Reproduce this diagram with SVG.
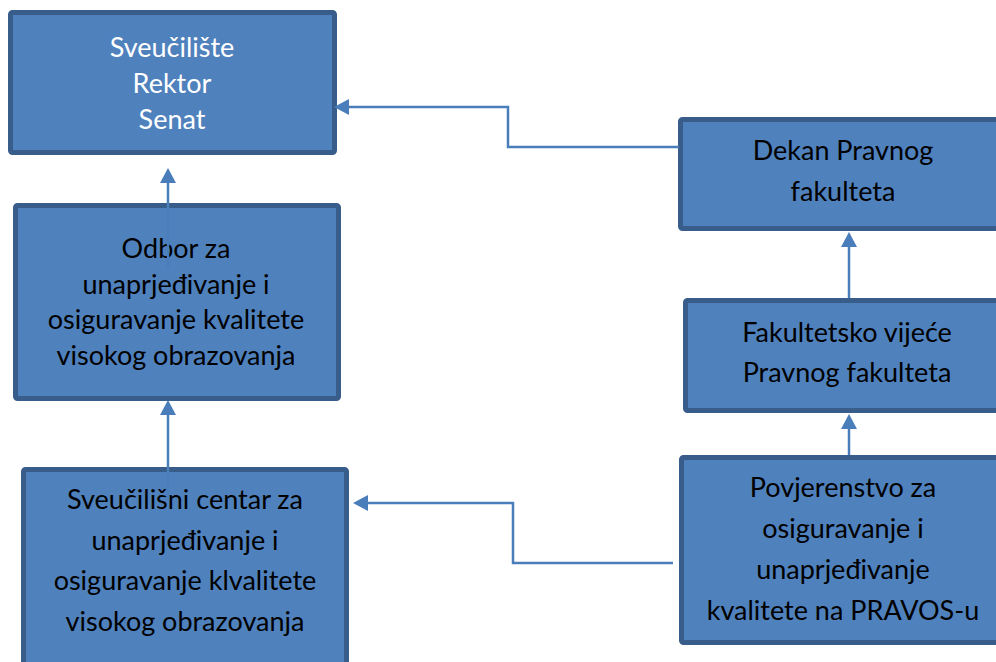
<svg xmlns="http://www.w3.org/2000/svg" width="996" height="662" viewBox="0 0 996 662">
<style>
.box{fill:#4F81BD;stroke:#385D8A;stroke-width:5}
.t{font-family:Lato,"Open Sans","Liberation Sans",sans-serif;font-size:27px;text-anchor:middle;fill:#000}
.w{fill:#fff}
.c{fill:none;stroke:#4A7EBB;stroke-width:2.5;marker-end:url(#ah)}
</style>
<defs>
<marker id="ah" viewBox="0 0 15 16" refX="0" refY="8" markerWidth="15" markerHeight="16" markerUnits="userSpaceOnUse" orient="auto">
<path d="M0,0 L15,8 L0,16 Z" fill="#4A7EBB"/>
</marker>
</defs>
<rect width="996" height="662" fill="#fff"/>
<g id="sveuciliste">
<rect class="box" x="10.5" y="12.5" width="324" height="140" rx="2"/>
<text class="t w" x="172" y="57">Sveučilište</text>
<text class="t w" x="172" y="93">Rektor</text>
<text class="t w" x="172" y="129">Senat</text>
</g>
<g id="odbor">
<rect class="box" x="15.5" y="205.5" width="323" height="193" rx="2"/>
<text class="t" x="176" y="258">Odbor za</text>
<text class="t" x="176" y="293.5">unaprjeđivanje i</text>
<text class="t" x="176" y="329">osiguravanje kvalitete</text>
<text class="t" x="176" y="364.5">visokog obrazovanja</text>
</g>
<g id="centar">
<rect class="box" x="23.5" y="469.5" width="323" height="220" rx="2"/>
<text class="t" x="185" y="509">Sveučilišni centar za</text>
<text class="t" x="185" y="549.5">unaprjeđivanje i</text>
<text class="t" x="185" y="590">osiguravanje klvalitete</text>
<text class="t" x="185" y="631">visokog obrazovanja</text>
</g>
<g id="dekan">
<rect class="box" x="680.5" y="119.5" width="324" height="109" rx="2"/>
<text class="t" x="843" y="160">Dekan Pravnog</text>
<text class="t" x="843" y="201">fakulteta</text>
</g>
<g id="vijece">
<rect class="box" x="685.5" y="300.5" width="324" height="110" rx="2"/>
<text class="t" x="847" y="342">Fakultetsko vijeće</text>
<text class="t" x="847" y="382">Pravnog fakulteta</text>
</g>
<g id="povjerenstvo">
<rect class="box" x="681.5" y="457.5" width="324" height="185" rx="2"/>
<text class="t" x="843" y="497">Povjerenstvo za</text>
<text class="t" x="843" y="538">osiguravanje i</text>
<text class="t" x="843" y="579">unaprjeđivanje</text>
<text class="t" x="843" y="620">kvalitete na PRAVOS-u</text>
</g>
<g id="connectors">
<path class="c" d="M168,267 V183"/>
<path class="c" d="M168,500 V415"/>
<path class="c" d="M849,298 V247"/>
<path class="c" d="M849,455 V429"/>
<path class="c" d="M679,147 H508 V107 H349"/>
<path class="c" d="M673,563 H513 V503 H368"/>
</g>
</svg>
